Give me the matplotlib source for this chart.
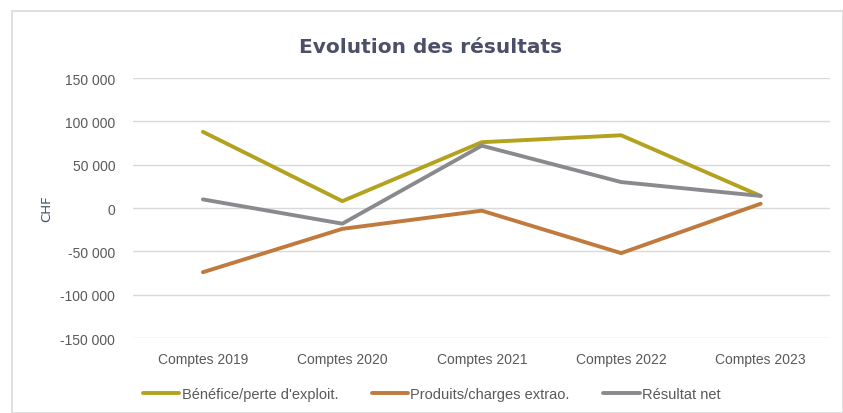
#!/usr/bin/env python

import matplotlib.pyplot as plt
from matplotlib.patches import Rectangle
from matplotlib.ticker import FuncFormatter


CATEGORIES = ["Comptes 2019", "Comptes 2020", "Comptes 2021", "Comptes 2022", "Comptes 2023"]
BENEFICE = [88000, 8000, 76000, 84000, 14000]
EXTRAO = [-74000, -24000, -3000, -52000, 5000]
NET = [10000, -18000, 72000, 30000, 14000]
SERIES_NAMES = ["Bénéfice/perte d'exploit.", "Produits/charges extrao.", "Résultat net"]
Y_TICKS = [-150000, -100000, -50000, 0, 50000, 100000, 150000]

COLORS = ["#B3A21E", "#C07A3E", "#8A8A8E"]
TEXT_COLOR = "#595959"
FONT = ["Liberation Sans", "DejaVu Sans"]


def fmt_thousands(v, pos):
    s = f"{abs(int(v)):,}".replace(",", " ")
    return ("-" if v < 0 else "") + s


def main():
    plt.rcParams['font.family'] = FONT
    fig = plt.figure(figsize=(8.43, 4.14), dpi=100, facecolor='white')

    # outer chart frame
    fig.patches.append(Rectangle((12 / 843, 0), 1 - 12 / 843, 1 - 12 / 414,
                                 transform=fig.transFigure, fill=False,
                                 edgecolor="#D9D9D9", linewidth=1.2))

    ax = fig.add_axes([0.158, 0.181, 0.827, 0.628])
    x = range(len(CATEGORIES))
    for vals, name, color in zip([BENEFICE, EXTRAO, NET], SERIES_NAMES, COLORS):
        ax.plot(x, vals, color=color, linewidth=2.8, label=name, solid_capstyle='round')

    ax.set_xlim(-0.5, len(CATEGORIES) - 0.5)
    ax.set_ylim(Y_TICKS[0], Y_TICKS[-1])
    ax.set_yticks(Y_TICKS)
    ax.yaxis.set_major_formatter(FuncFormatter(fmt_thousands))
    ax.set_xticks(list(x))
    ax.set_xticklabels(CATEGORIES)
    ax.grid(axis='y', color="#D9D9D9", linewidth=1.0)
    ax.set_axisbelow(True)
    for spine in ax.spines.values():
        spine.set_visible(False)
    ax.tick_params(length=0, labelsize=10, labelcolor=TEXT_COLOR)
    ax.tick_params(axis='y', pad=13)
    ax.tick_params(axis='x', pad=10)

    ax.set_ylabel("CHF", color="#44546A", fontsize=9.5, family=["DejaVu Sans"])
    ax.yaxis.set_label_coords(-0.114, 0.5)

    fig.text(0.511, 0.885, "Evolution des résultats", ha='center', va='center',
             fontsize=14.5, fontweight='bold', color="#4A5068", family=["DejaVu Sans"])

    fig.legend(loc='center', bbox_to_anchor=(0.512, 0.046), ncol=3, frameon=False,
               fontsize=10.5, handlelength=2.5, handletextpad=0.15, columnspacing=2.3,
               labelcolor=TEXT_COLOR)

    fig.savefig("out.png", dpi=100, facecolor='white')


if __name__ == "__main__":
    main()
